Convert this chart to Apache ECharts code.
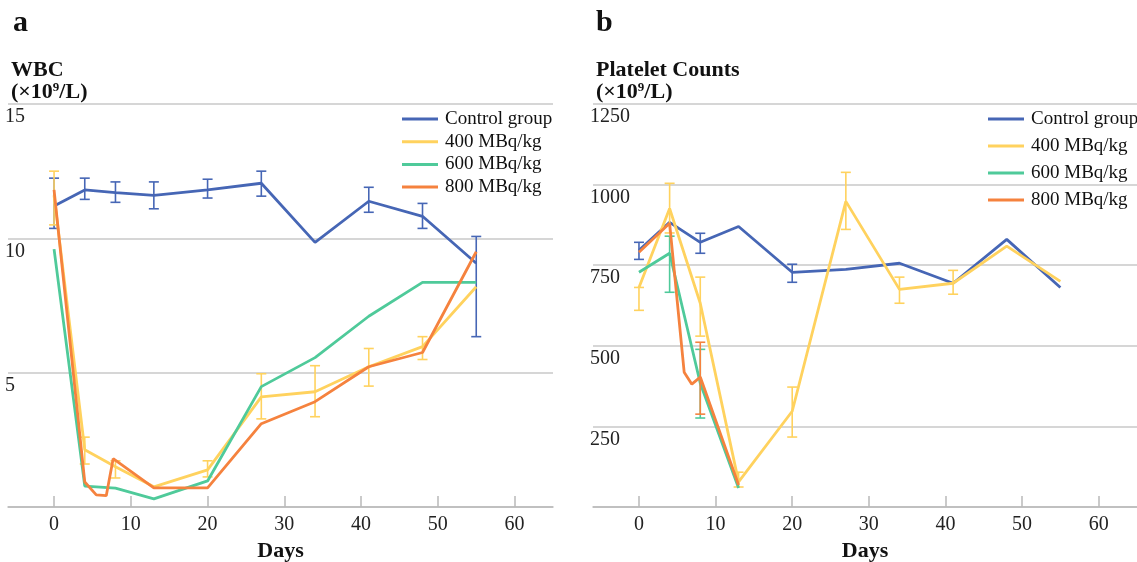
<!DOCTYPE html>
<html>
<head>
<meta charset="utf-8">
<script src="https://cdn.jsdelivr.net/npm/echarts@6/dist/echarts.min.js"></script>
<style>
  html, body { margin: 0; padding: 0; background: #fff; }
  #chart { width: 1137px; height: 562px; }
</style>
</head>
<body>
<div id="chart"></div>
<script>
// series names / colours
const groupNames = ['Control group', '400 MBq/kg', '600 MBq/kg', '800 MBq/kg'];
const groupColors = ['#4666b5', '#ffd25e', '#4fca9a', '#f5823e'];
const tickDays = [0, 10, 20, 30, 40, 50, 60];

// a: WBC (x10^9/L)
const wbcDays = [0, 4, 8, 13, 20, 27, 34, 41, 48, 55];
const wbcControl = [11.2, 11.8, 11.7, 11.6, 11.8, 12.05, 9.85, 11.38, 10.82, 9.07];
const wbc400 = [11.6, 2.13, 1.5, 0.75, 1.38, 4.1, 4.29, 5.22, 5.97, 8.2];
const wbc600 = [9.6, 0.78, 0.7, 0.3, 0.97, 4.48, 5.56, 7.1, 8.36, 8.36];
const wbc800Days = [0, 4, 5.5, 6.8, 7.7, 13, 20, 27, 34, 41, 48, 55];
const wbc800 = [11.8, 0.93, 0.45, 0.42, 1.8, 0.71, 0.71, 3.1, 3.92, 5.22, 5.75, 9.5];
// error bars: [day, low, high]
const wbcControlErr = [[0, 10.37, 12.24], [4, 11.45, 12.24], [8, 11.34, 12.1], [13, 11.1, 12.1], [20, 11.5, 12.2],
  [27, 11.57, 12.5], [41, 10.97, 11.9], [48, 10.37, 11.3], [55, 6.34, 10.07]];
const wbc400Err = [[0, 10.5, 12.5], [4, 1.6, 2.6], [8, 1.08, 1.72], [20, 1.12, 1.72], [27, 3.28, 4.96],
  [34, 3.36, 5.26], [41, 4.5, 5.9], [48, 5.49, 6.34]];

// b: Platelet counts (x10^9/L)
const pltDays = [0, 4, 8, 13, 20, 27, 34, 41, 48, 55];
const pltControl = [796, 883, 821, 870, 728, 737, 756, 694, 830, 681];
const plt400 = [681, 926, 632, 78, 297, 948, 675, 694, 809, 700];
const plt600Days = [0, 4, 8, 13];
const plt600 = [728, 787, 384, 59];
const plt800Days = [0, 4, 5.9, 6.9, 8, 13];
const plt800 = [790, 880, 418, 381, 403, 68];
const pltControlErr = [[0, 768, 821], [8, 787, 849], [20, 697, 753]];
const plt400Err = [[0, 610, 681], [4, 850, 1004], [8, 530, 713], [13, 62, 108], [20, 217, 372],
  [27, 861, 1038], [34, 632, 713], [41, 660, 734]];
const plt600Err = [[4, 666, 840], [8, 276, 489]];
const plt800Err = [[8, 288, 511]];

const FONT = 'Liberation Serif';

function pairs(xs, ys) {
    return xs.map((x, i) => [x, ys[i]]);
}

function lineSeries(idx, axis, xs, ys) {
    return {
        name: groupNames[idx],
        type: 'line',
        xAxisIndex: axis, yAxisIndex: axis,
        data: pairs(xs, ys),
        showSymbol: false,
        symbol: 'none',
        lineStyle: { color: groupColors[idx], width: 2.8 },
        itemStyle: { color: groupColors[idx] },
        z: 3 + idx,
        animation: false
    };
}

function errSeries(idx, axis, errs) {
    return {
        name: groupNames[idx],
        type: 'custom',
        xAxisIndex: axis, yAxisIndex: axis,
        data: errs,
        encode: { x: 0, y: [1, 2] },
        itemStyle: { color: groupColors[idx] },
        z: 3 + idx,
        animation: false,
        renderItem: (params, api) => {
            const x = api.value(0);
            const lo = api.coord([x, api.value(1)]);
            const hi = api.coord([x, api.value(2)]);
            const w = 5;
            const style = { stroke: groupColors[idx], lineWidth: 1.6, fill: null };
            return {
                type: 'group',
                children: [
                    { type: 'line', shape: { x1: lo[0], y1: lo[1], x2: hi[0], y2: hi[1] }, style },
                    { type: 'line', shape: { x1: hi[0] - w, y1: hi[1], x2: hi[0] + w, y2: hi[1] }, style },
                    { type: 'line', shape: { x1: lo[0] - w, y1: lo[1], x2: lo[0] + w, y2: lo[1] }, style }
                ]
            };
        }
    };
}

function xAxisOf(gridIndex) {
    return {
        type: 'value', gridIndex,
        min: -6, max: 65,
        name: 'Days', nameLocation: 'middle', nameGap: 32,
        nameTextStyle: { fontFamily: FONT, fontSize: 22, fontWeight: 'bold', color: '#111' },
        axisLine: { lineStyle: { color: '#b9b9b9', width: 1.5 } },
        axisTick: { show: true, inside: true, length: 11, customValues: tickDays, lineStyle: { color: '#b9b9b9', width: 1.5 } },
        axisLabel: { customValues: tickDays, margin: 8, fontFamily: FONT, fontSize: 20, color: '#222' },
        splitLine: { show: false }
    };
}

function yAxisOf(gridIndex, max, interval) {
    return {
        type: 'value', gridIndex,
        min: 0, max, interval,
        axisLine: { show: false },
        axisTick: { show: false },
        axisLabel: {
            inside: true, margin: -3, verticalAlign: 'top', padding: [3, 0, 0, 0],
            fontFamily: FONT, fontSize: 20, color: '#222',
            formatter: v => (v === 0 ? '' : String(v))
        },
        splitLine: { lineStyle: { color: '#c8c8c8', width: 1.5 } }
    };
}

function legendOf(left, gap) {
    return {
        data: groupNames,
        orient: 'vertical',
        left, top: 104,
        icon: 'rect', itemWidth: 36, itemHeight: 3, itemGap: gap,
        textStyle: { fontFamily: FONT, fontSize: 19, color: '#111', lineHeight: 20, padding: [0, 0, 0, 2] }
    };
}

const titleRich = {
    t: { fontFamily: FONT, fontSize: 22, fontWeight: 'bold', color: '#111', lineHeight: 22 },
    s: { fontFamily: FONT, fontSize: 13, color: '#111', verticalAlign: 'top', lineHeight: 22, padding: [0, 0, 6, 0] }
};

const chart = echarts.init(document.getElementById('chart'));
chart.setOption({
    animation: false,
    title: [
        { text: 'a', left: 8, top: 3, textStyle: { fontFamily: FONT, fontSize: 30, fontWeight: 'bold', color: '#111' } },
        { text: 'b', left: 591, top: 3, textStyle: { fontFamily: FONT, fontSize: 30, fontWeight: 'bold', color: '#111' } },
        { text: '{t|WBC}\n{t|(×10}{s|9}{t|/L)}', left: 6, top: 54, textStyle: { rich: titleRich } },
        { text: '{t|Platelet Counts}\n{t|(×10}{s|9}{t|/L)}', left: 591, top: 54, textStyle: { rich: titleRich } }
    ],
    legend: [legendOf(397, 2.7), legendOf(983, 7)],
    grid: [
        { left: 8, top: 104, right: 584, bottom: 55, outerBoundsMode: 'none' },
        { left: 593, top: 104, right: 0, bottom: 55, outerBoundsMode: 'none' }
    ],
    xAxis: [xAxisOf(0), xAxisOf(1)],
    yAxis: [yAxisOf(0, 15, 5), yAxisOf(1, 1250, 250)],
    series: [
        lineSeries(0, 0, wbcDays, wbcControl),
        lineSeries(1, 0, wbcDays, wbc400),
        lineSeries(2, 0, wbcDays, wbc600),
        lineSeries(3, 0, wbc800Days, wbc800),
        errSeries(0, 0, wbcControlErr),
        errSeries(1, 0, wbc400Err),
        lineSeries(0, 1, pltDays, pltControl),
        lineSeries(1, 1, pltDays, plt400),
        lineSeries(2, 1, plt600Days, plt600),
        lineSeries(3, 1, plt800Days, plt800),
        errSeries(0, 1, pltControlErr),
        errSeries(1, 1, plt400Err),
        errSeries(2, 1, plt600Err),
        errSeries(3, 1, plt800Err)
    ]
});
</script>
</body>
</html>
